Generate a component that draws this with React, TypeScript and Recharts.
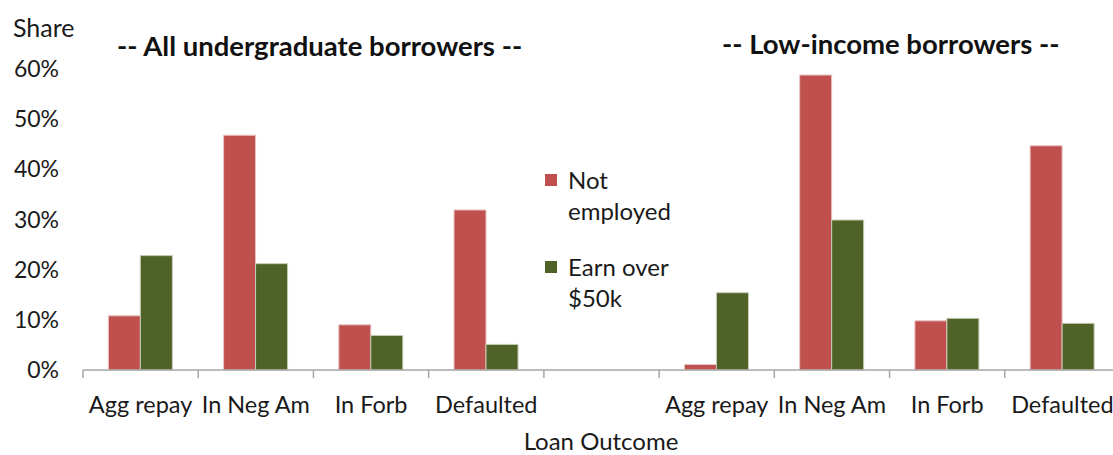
import { BarChart, Bar, XAxis, YAxis, Legend } from 'recharts'

const categories = ['Agg repay', 'In Neg Am', 'In Forb', 'Defaulted', '', 'Agg repay', 'In Neg Am', 'In Forb', 'Defaulted']
const notEmployed = [10.8, 46.8, 9.0, 31.9, null, 1.1, 58.8, 9.8, 44.7]
const earnOver50k = [22.8, 21.2, 6.9, 5.1, null, 15.4, 29.9, 10.3, 9.3]
const yTicks = [0, 10, 20, 30, 40, 50, 60]
const seriesNames = ['Not employed', 'Earn over $50k']

const RED = '#C0504D'
const GREEN = '#4F6228'
const AXIS = '#A6A6A6'
const TEXT = '#1a1a1a'
const FONT = 'Lato, "Noto Sans", sans-serif'

const chartW = 1130
const chartH = 455
const yAxisW = 83
const xAxisH = 30
const margin = { top: 69, right: 10, bottom: 55, left: 0 }
const bandW = (chartW - yAxisW - margin.left - margin.right) / categories.length

const data = categories.map((name, i) => ({
  name,
  notEmployed: notEmployed[i],
  earnOver50k: earnOver50k[i],
}))

// Excel-style category axis: tick marks sit between categories
function CategoryTick(props: any) {
  const { x, y, payload } = props
  return (
    <g>
      <line x1={x - bandW / 2} x2={x - bandW / 2} y1={y} y2={y + 8} stroke={AXIS} strokeWidth={1.5} />
      <text x={x} y={y + 43} textAnchor="middle" fill={TEXT} fontSize={23.5} fontFamily={FONT}>
        {payload.value}
      </text>
    </g>
  )
}

function LegendBox({ payload }: any) {
  const items = [...(payload || [])].sort(
    (a: any, b: any) => seriesNames.indexOf(a.value) - seriesNames.indexOf(b.value)
  )
  return (
    <div style={{ fontFamily: FONT, fontSize: 24, color: TEXT, lineHeight: '31px' }}>
      {items.map((entry: any, i: number) => (
        <div key={i} style={{ display: 'flex', alignItems: 'flex-start', marginBottom: 25 }}>
          <span style={{ width: 12, height: 12, background: entry.color, marginTop: 10, marginRight: 11, flexShrink: 0 }} />
          <span style={{ width: 118 }}>{entry.value}</span>
        </div>
      ))}
    </div>
  )
}

export default function App() {
  return (
    <div style={{ position: 'absolute', left: 0, top: 0, width: 1113, height: 455, overflow: 'hidden', background: '#fff' }}>
      <BarChart width={chartW} height={chartH} data={data} margin={margin} barCategoryGap="22%" barGap={0}>
        <XAxis
          dataKey="name"
          interval={0}
          height={xAxisH}
          stroke={AXIS}
          strokeWidth={1.5}
          tickLine={false}
          tickSize={0}
          tickMargin={0}
          tick={<CategoryTick />}
        />
        <YAxis
          domain={[0, 60]}
          ticks={yTicks}
          width={yAxisW}
          axisLine={false}
          tickLine={false}
          tickMargin={18}
          tickFormatter={(v) => `${v}%`}
          tick={{ fontSize: 23, fill: TEXT, fontFamily: FONT }}
        />
        <Legend
          layout="vertical"
          align="center"
          verticalAlign="middle"
          content={<LegendBox />}
          wrapperStyle={{ position: 'absolute', left: 545, top: 164, width: 150 }}
        />
        <Bar dataKey="notEmployed" name={seriesNames[0]} fill={RED} stroke="#e8c4c3" strokeWidth={1} isAnimationActive={false} />
        <Bar dataKey="earnOver50k" name={seriesNames[1]} fill={GREEN} stroke="#c4ccb4" strokeWidth={1} isAnimationActive={false} />
      </BarChart>
      <div style={{ position: 'absolute', left: 13, top: 12, fontFamily: FONT, fontSize: 25, lineHeight: '30px', color: TEXT }}>Share</div>
      <div style={{ position: 'absolute', left: 117, top: 30, fontFamily: FONT, fontSize: 27.5, lineHeight: '32px', fontWeight: 700, color: '#111' }}>
        -- All undergraduate borrowers --
      </div>
      <div style={{ position: 'absolute', left: 722, top: 28, fontFamily: FONT, fontSize: 27.5, lineHeight: '32px', fontWeight: 700, color: '#111' }}>
        -- Low-income borrowers --
      </div>
      <div style={{ position: 'absolute', left: 401, width: 400, top: 427, textAlign: 'center', fontFamily: FONT, fontSize: 24, lineHeight: '28px', color: TEXT }}>
        Loan Outcome
      </div>
    </div>
  )
}
